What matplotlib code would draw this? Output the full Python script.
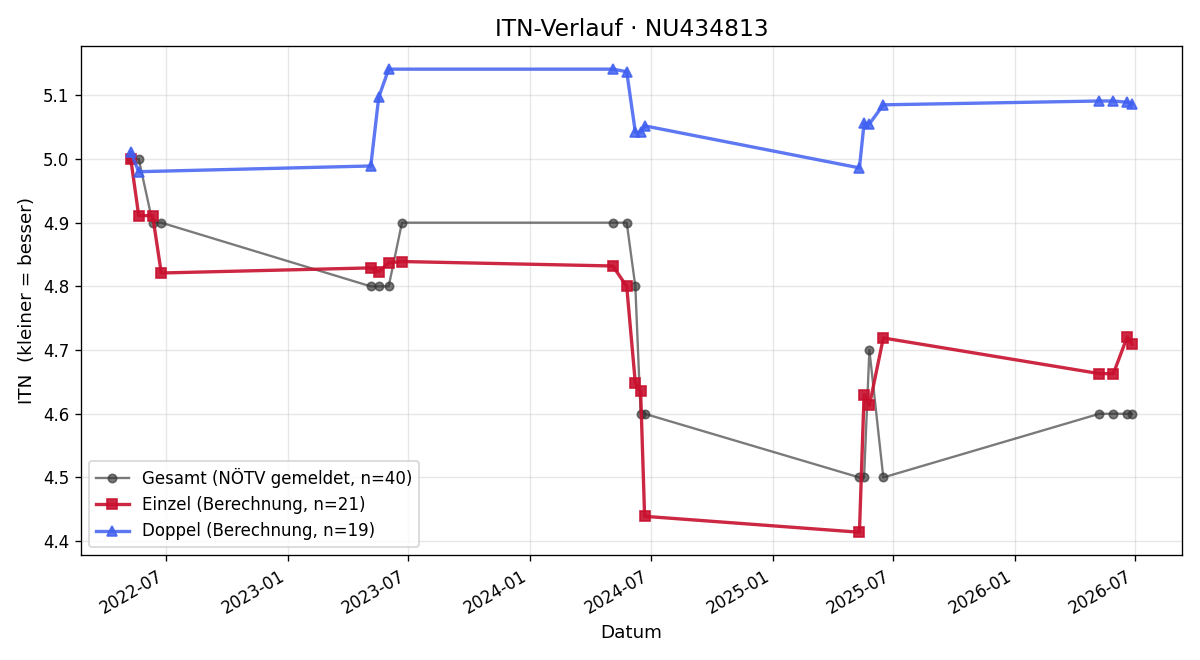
import pandas as pd
import matplotlib
matplotlib.use("Agg")
import matplotlib.pyplot as plt
import matplotlib.dates as mdates

# --- Einzel (21 Spiele) ---
einzel_dates = ["2022-05-09", "2022-05-21", "2022-06-11", "2022-06-24",
                "2023-05-06", "2023-05-18", "2023-06-02", "2023-06-22",
                "2024-05-05", "2024-05-26", "2024-06-08", "2024-06-16", "2024-06-22",
                "2025-05-12", "2025-05-19", "2025-05-27", "2025-06-17",
                "2026-05-09", "2026-05-30", "2026-06-20", "2026-06-27"]
einzel_itn = [5.0, 4.911, 4.911, 4.821,
              4.829, 4.823, 4.837, 4.839,
              4.832, 4.80, 4.648, 4.635, 4.439,
              4.414, 4.630, 4.613, 4.719,
              4.663, 4.663, 4.721, 4.709]

# --- Doppel (19 Spiele) ---
doppel_dates = ["2022-05-09", "2022-05-21",
                "2023-05-06", "2023-05-18", "2023-06-02",
                "2024-05-05", "2024-05-26", "2024-06-08", "2024-06-16", "2024-06-22",
                "2025-05-12", "2025-05-19", "2025-05-27", "2025-06-17",
                "2026-05-09", "2026-05-30", "2026-06-20", "2026-06-27"]
doppel_itn = [5.011, 4.980,
              4.989, 5.097, 5.141,
              5.141, 5.137, 5.042, 5.042, 5.052,
              4.986, 5.056, 5.055, 5.085,
              5.091, 5.091, 5.089, 5.087]

# --- Gesamt (NÖTV gemeldet) ---
gesamt_dates = einzel_dates
gesamt_itn = [5.0, 5.0, 4.9, 4.9,
              4.8, 4.8, 4.8, 4.9,
              4.9, 4.9, 4.8, 4.6, 4.6,
              4.5, 4.5, 4.7, 4.5,
              4.6, 4.6, 4.6, 4.6]

fig, ax = plt.subplots(figsize=(10, 5.5), dpi=120)

ax.plot(pd.to_datetime(gesamt_dates), gesamt_itn, color="#333333", alpha=0.65,
        marker="o", markersize=5, linewidth=1.4, label="Gesamt (NÖTV gemeldet, n=40)")
ax.plot(pd.to_datetime(einzel_dates), einzel_itn, color="#c8102e", alpha=0.9,
        marker="s", markersize=6.5, linewidth=2, label="Einzel (Berechnung, n=21)")
ax.plot(pd.to_datetime(doppel_dates), doppel_itn, color="#4060f0", alpha=0.85,
        marker="^", markersize=6.5, linewidth=2, label="Doppel (Berechnung, n=19)")

ax.set_title("ITN-Verlauf · NU434813", fontsize=14)
ax.set_xlabel("Datum", fontsize=11)
ax.set_ylabel("ITN  (kleiner = besser)", fontsize=11)
ax.grid(True, alpha=0.3)
ax.xaxis.set_major_locator(mdates.MonthLocator(bymonth=[1, 7]))
ax.xaxis.set_major_formatter(mdates.DateFormatter("%Y-%m"))
ax.legend(loc="lower left")
fig.autofmt_xdate()
fig.tight_layout()
fig.savefig("out.png")
